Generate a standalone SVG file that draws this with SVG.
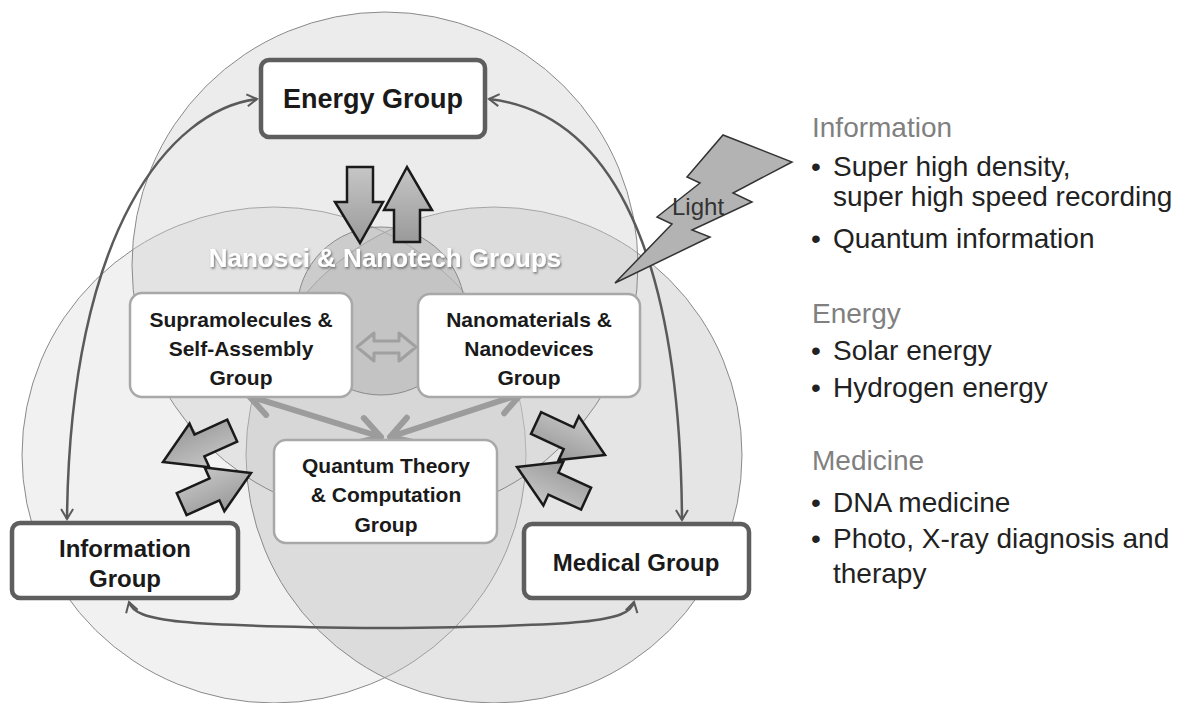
<svg xmlns="http://www.w3.org/2000/svg" width="1181" height="703" viewBox="0 0 1181 703">
<style>
.circ{stroke:#8a8a8a;stroke-width:1}
.big{fill:#fff;stroke:#5e5e5e;stroke-width:4.5}
.small{fill:#fff;stroke:#a8a8a8;stroke-width:2.5}
.lbl{font-family:"Liberation Sans",Arial,sans-serif;font-weight:bold;fill:#1a1a1a;text-anchor:middle}
.l24{font-size:24px}
.l21{font-size:21px}
.conn{fill:none;stroke:#5a5a5a;stroke-width:2.5}
.garr{fill:none;stroke:#9c9c9c;stroke-width:6}
.blk{fill:url(#gfill);stroke:#1a1a1a;stroke-width:2.5;stroke-linejoin:miter}
.rt{font-family:"Liberation Sans",Arial,sans-serif;font-size:28px;fill:#222}
.hd{fill:#808080}
</style>
<defs>
<linearGradient id="gfill" x1="0" y1="0" x2="0" y2="1">
<stop offset="0" stop-color="#c6c6c6"/>
<stop offset="1" stop-color="#9a9a9a"/>
</linearGradient>
<marker id="mk" markerUnits="userSpaceOnUse" viewBox="-14 -9 16 18" refX="0" refY="0" markerWidth="16" markerHeight="18" orient="auto-start-reverse">
<path d="M-10,-6 L0,0 L-10,6" fill="none" stroke="#5a5a5a" stroke-width="2"/>
</marker>
<marker id="mg" markerUnits="userSpaceOnUse" viewBox="-28 -18 32 36" refX="0" refY="0" markerWidth="32" markerHeight="36" orient="auto-start-reverse">
<path d="M-22,-13 L0,0 L-22,13" fill="none" stroke="#9c9c9c" stroke-width="6" stroke-linecap="round" stroke-linejoin="round"/>
</marker>
<path id="blkarrow" d="M0,0 L-40,-24 L-40,-12 L-76,-12 L-76,12 L-40,12 L-40,24 Z"/>
<filter id="sh" x="-10%" y="-30%" width="120%" height="160%">
<feDropShadow dx="1" dy="1.5" stdDeviation="1.2" flood-color="#555" flood-opacity="0.8"/>
</filter>
</defs>
<rect width="1181" height="703" fill="#fff"/>

<g id="background-circles">
<ellipse class="circ" cx="274" cy="455" rx="252" ry="248" fill="#e0e0e0" fill-opacity="0.45"/>
<ellipse class="circ" cx="494" cy="455" rx="248" ry="248" fill="#bdbdbd" fill-opacity="0.4"/>
<circle class="circ" cx="385" cy="265" r="253" fill="#cfcfcf" fill-opacity="0.4"/>
<circle class="circ" cx="381" cy="311" r="84" fill="#a0a0a0" fill-opacity="0.35"/>
</g>

<g id="nanosci-label">
<text x="385" y="267" font-family="Liberation Sans, Arial, sans-serif" font-weight="bold" font-size="26" fill="#fff" text-anchor="middle" filter="url(#sh)">Nanosci &amp; Nanotech Groups</text>
</g>

<g id="connectors">
<path class="conn" d="M257,99 C170,110 70,230 67,519" marker-start="url(#mk)" marker-end="url(#mk)"/>
<path class="conn" d="M489,99 C600,112 680,230 682,520" marker-start="url(#mk)" marker-end="url(#mk)"/>
<path class="conn" d="M129,602 C135,622 180,626 382,628 C584,626 629,622 634,602" marker-start="url(#mk)" marker-end="url(#mk)"/>
<path d="M357,347 L374,333 L374,341 L399,341 L399,333 L416,347 L399,361 L399,353 L374,353 L374,361 Z" fill="#c4c4c4" stroke="#a0a0a0" stroke-width="3" stroke-linejoin="round"/>
<line class="garr" x1="249" y1="396" x2="381" y2="437" marker-start="url(#mg)" marker-end="url(#mg)"/>
<line class="garr" x1="521" y1="394" x2="390" y2="437" marker-start="url(#mg)" marker-end="url(#mg)"/>
</g>

<g id="block-arrows">
<polygon class="blk" points="347,167 373,167 373,202 383,202 360,243 335,202 347,202"/>
<polygon class="blk" points="394,242 420,242 420,210 432,210 407,167 384,210 394,210"/>
<use href="#blkarrow" class="blk" transform="translate(163,462) rotate(155.6)"/>
<use href="#blkarrow" class="blk" transform="translate(251,473) rotate(-24.2)"/>
<use href="#blkarrow" class="blk" transform="translate(605,455) rotate(24.9)"/>
<use href="#blkarrow" class="blk" transform="translate(517,467) rotate(204.6)"/>
</g>

<g id="light">
<polygon points="615,283 710,237 692,230 752,202 733,193 792,162 723,135 687,177 700,183 657,217 672,224" fill="#b3b3b3" stroke="#333" stroke-width="1.5" stroke-linejoin="miter"/>
<text x="672" y="215" font-family="Liberation Sans, Arial, sans-serif" font-size="24" fill="#333">Light</text>
</g>

<g id="energy-group">
<rect class="big" x="261" y="60" width="224" height="77" rx="8"/>
<text class="lbl" font-size="27" x="373" y="108">Energy Group</text>
</g>

<g id="information-group">
<rect class="big" x="12" y="523" width="226" height="75" rx="8"/>
<text class="lbl l24" x="125" y="557">Information</text>
<text class="lbl l24" x="125" y="587">Group</text>
</g>

<g id="medical-group">
<rect class="big" x="524" y="524" width="225" height="74" rx="8"/>
<text class="lbl l24" x="636" y="571">Medical Group</text>
</g>

<g id="supramolecules-group">
<rect class="small" x="130" y="293" width="222" height="104" rx="12"/>
<text class="lbl l21" x="241" y="327">Supramolecules &amp;</text>
<text class="lbl l21" x="241" y="356">Self-Assembly</text>
<text class="lbl l21" x="241" y="385">Group</text>
</g>

<g id="nanomaterials-group">
<rect class="small" x="418" y="294" width="222" height="103" rx="12"/>
<text class="lbl l21" x="529" y="327">Nanomaterials &amp;</text>
<text class="lbl l21" x="529" y="356">Nanodevices</text>
<text class="lbl l21" x="529" y="385">Group</text>
</g>

<g id="quantum-group">
<rect class="small" x="274" y="440" width="223" height="103" rx="12"/>
<text class="lbl l21" x="386" y="473">Quantum Theory</text>
<text class="lbl l21" x="386" y="502">&amp; Computation</text>
<text class="lbl l21" x="386" y="532">Group</text>
</g>

<g id="applications">
<text class="rt hd" x="812" y="137">Information</text>
<text class="rt" x="811" y="176">•</text>
<text class="rt" x="833" y="176">Super high density,</text>
<text class="rt" x="833" y="206">super high speed recording</text>
<text class="rt" x="811" y="248">•</text>
<text class="rt" x="833" y="248">Quantum information</text>
<text class="rt hd" x="812" y="323">Energy</text>
<text class="rt" x="811" y="360">•</text>
<text class="rt" x="833" y="360">Solar energy</text>
<text class="rt" x="811" y="397">•</text>
<text class="rt" x="833" y="397">Hydrogen energy</text>
<text class="rt hd" x="812" y="470">Medicine</text>
<text class="rt" x="811" y="512">•</text>
<text class="rt" x="833" y="512">DNA medicine</text>
<text class="rt" x="811" y="548">•</text>
<text class="rt" x="833" y="548">Photo, X-ray diagnosis and</text>
<text class="rt" x="833" y="583">therapy</text>
</g>
</svg>
